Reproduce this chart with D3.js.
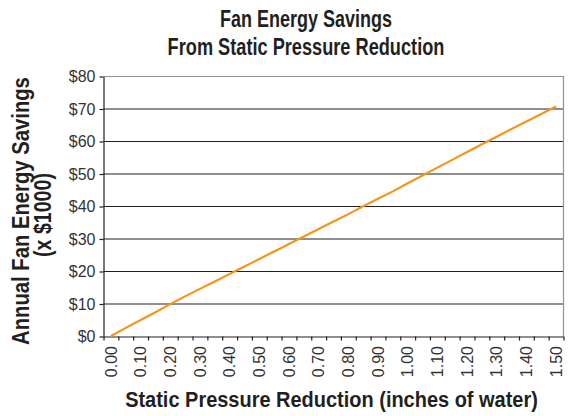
<!DOCTYPE html>
<html>
<head>
<meta charset="utf-8">
<script src="https://cdn.jsdelivr.net/npm/d3@7"></script>
<style>
  body { margin: 0; background: #fff; }
  svg { display: block; }
  .tick text { font-family: "Liberation Sans", Arial, sans-serif; }
</style>
</head>
<body>
<svg id="chart" width="568" height="416"></svg>
<script>
// categories every 0.05, a label on every other one
const pressure = ["0.00","0.05","0.10","0.15","0.20","0.25","0.30","0.35","0.40","0.45",
                  "0.50","0.55","0.60","0.65","0.70","0.75","0.80","0.85","0.90","0.95",
                  "1.00","1.05","1.10","1.15","1.20","1.25","1.30","1.35","1.40","1.45","1.50"]
const savings = [0, 2.5, 4.9, 7.3, 9.8, 12.2, 14.5, 16.8, 19.1, 21.4,
                 23.7, 26.0, 28.3, 30.6, 32.9, 35.2, 37.5, 39.9, 42.2, 44.5,
                 47.0, 49.4, 51.8, 54.2, 56.6, 59.0, 61.3, 63.7, 66.0, 68.3, 70.6]
const yTicks = [0, 10, 20, 30, 40, 50, 60, 70, 80]
const titleLines = ["Fan Energy Savings", "From Static Pressure Reduction"]
const yTitleLines = ["Annual Fan Energy Savings", "(x $1000)"]
const xTitle = "Static Pressure Reduction (inches of water)"

const M = { left: 103.5, right: 563.5, top: 76, bottom: 336 }
const svg = d3.select("#chart")
const ink = "#231f20"
const boldFont = '"Liberation Sans", Arial, sans-serif'

const x = d3.scaleBand().domain(pressure).range([M.left, M.right]).padding(0)
const xEdges = d3.scaleLinear().domain([0, pressure.length]).range([M.left, M.right])
const y = d3.scaleLinear().domain([0, 80]).range([M.bottom, M.top])

// bold text squeezed horizontally to a given width, centred on (cx, cy)
function boldLabel(str, size, width, cx, cy, rotate) {
    const t = svg.append("text")
        .style("font-family", boldFont)
        .style("font-weight", "bold")
        .style("font-size", size + "px")
        .attr("fill", ink)
        .attr("text-anchor", "middle")
        .text(str)
    const k = width / t.node().getComputedTextLength()
    t.attr("transform", `translate(${cx},${cy})` + (rotate ? " rotate(-90)" : "") + ` scale(${k},1)`)
    return t
}

// gridlines
svg.append("g")
    .selectAll("line")
    .data(yTicks.slice(1, -1))
    .enter()
    .append("line")
    .attr("x1", M.left).attr("x2", M.right)
    .attr("y1", d => y(d) + 0.5).attr("y2", d => y(d) + 0.5)
    .attr("stroke", ink)
    .attr("stroke-width", 1.2)

// plot border top / right
svg.append("path")
    .attr("d", `M${M.left},${y(80) + 0.5}H${M.right}V${M.bottom}`)
    .attr("fill", "none")
    .attr("stroke", "#8c939b")
    .attr("stroke-width", 1.2)

// y axis
const yAxis = svg.append("g")
    .attr("transform", `translate(${M.left},0.5)`)
    .call(d3.axisLeft(y).tickValues(yTicks).tickSize(4).tickSizeOuter(0).tickFormat(d => "$" + d))
yAxis.select(".domain").attr("stroke", ink).attr("stroke-width", 1.2)
yAxis.selectAll(".tick line").attr("stroke", ink).attr("stroke-width", 1.2)
yAxis.selectAll(".tick text")
    .attr("x", -8)
    .style("font-size", "16px")
    .attr("fill", "#333")

// x axis: ticks between categories
const xTickAxis = svg.append("g")
    .attr("transform", `translate(0,${M.bottom + 0.5})`)
    .call(d3.axisBottom(xEdges).tickValues(d3.range(pressure.length + 1)).tickSize(4).tickSizeOuter(0).tickFormat(""))
xTickAxis.select(".domain").attr("stroke", ink).attr("stroke-width", 1.2)
xTickAxis.selectAll(".tick line").attr("stroke", ink).attr("stroke-width", 1.2)

const xLabelAxis = svg.append("g")
    .attr("transform", `translate(0,${M.bottom})`)
    .call(d3.axisBottom(x).tickValues(pressure.filter((d, i) => i % 2 === 0)).tickSize(0))
xLabelAxis.select(".domain").remove()
xLabelAxis.selectAll(".tick text")
    .attr("transform", "rotate(-90)")
    .attr("x", -10)
    .attr("y", 0)
    .attr("dy", "0.36em")
    .attr("text-anchor", "end")
    .style("font-size", "16px")
    .attr("fill", "#333")

// line
const line = d3.line()
    .x((d, i) => x(pressure[i]) + x.bandwidth() / 2)
    .y(d => y(d))
svg.append("path")
    .datum(savings)
    .attr("d", line)
    .attr("fill", "none")
    .attr("stroke", "#f7941d")
    .attr("stroke-width", 2.2)

// titles
boldLabel(titleLines[0], 24, 172, 306, 27)
boldLabel(titleLines[1], 24, 277, 306, 55)

boldLabel(yTitleLines[0], 23, 268, 29, 211, true)
boldLabel(yTitleLines[1], 23, 84, 51, 215, true)

boldLabel(xTitle, 22, 413, 331.5, 407)
</script>
</body>
</html>
